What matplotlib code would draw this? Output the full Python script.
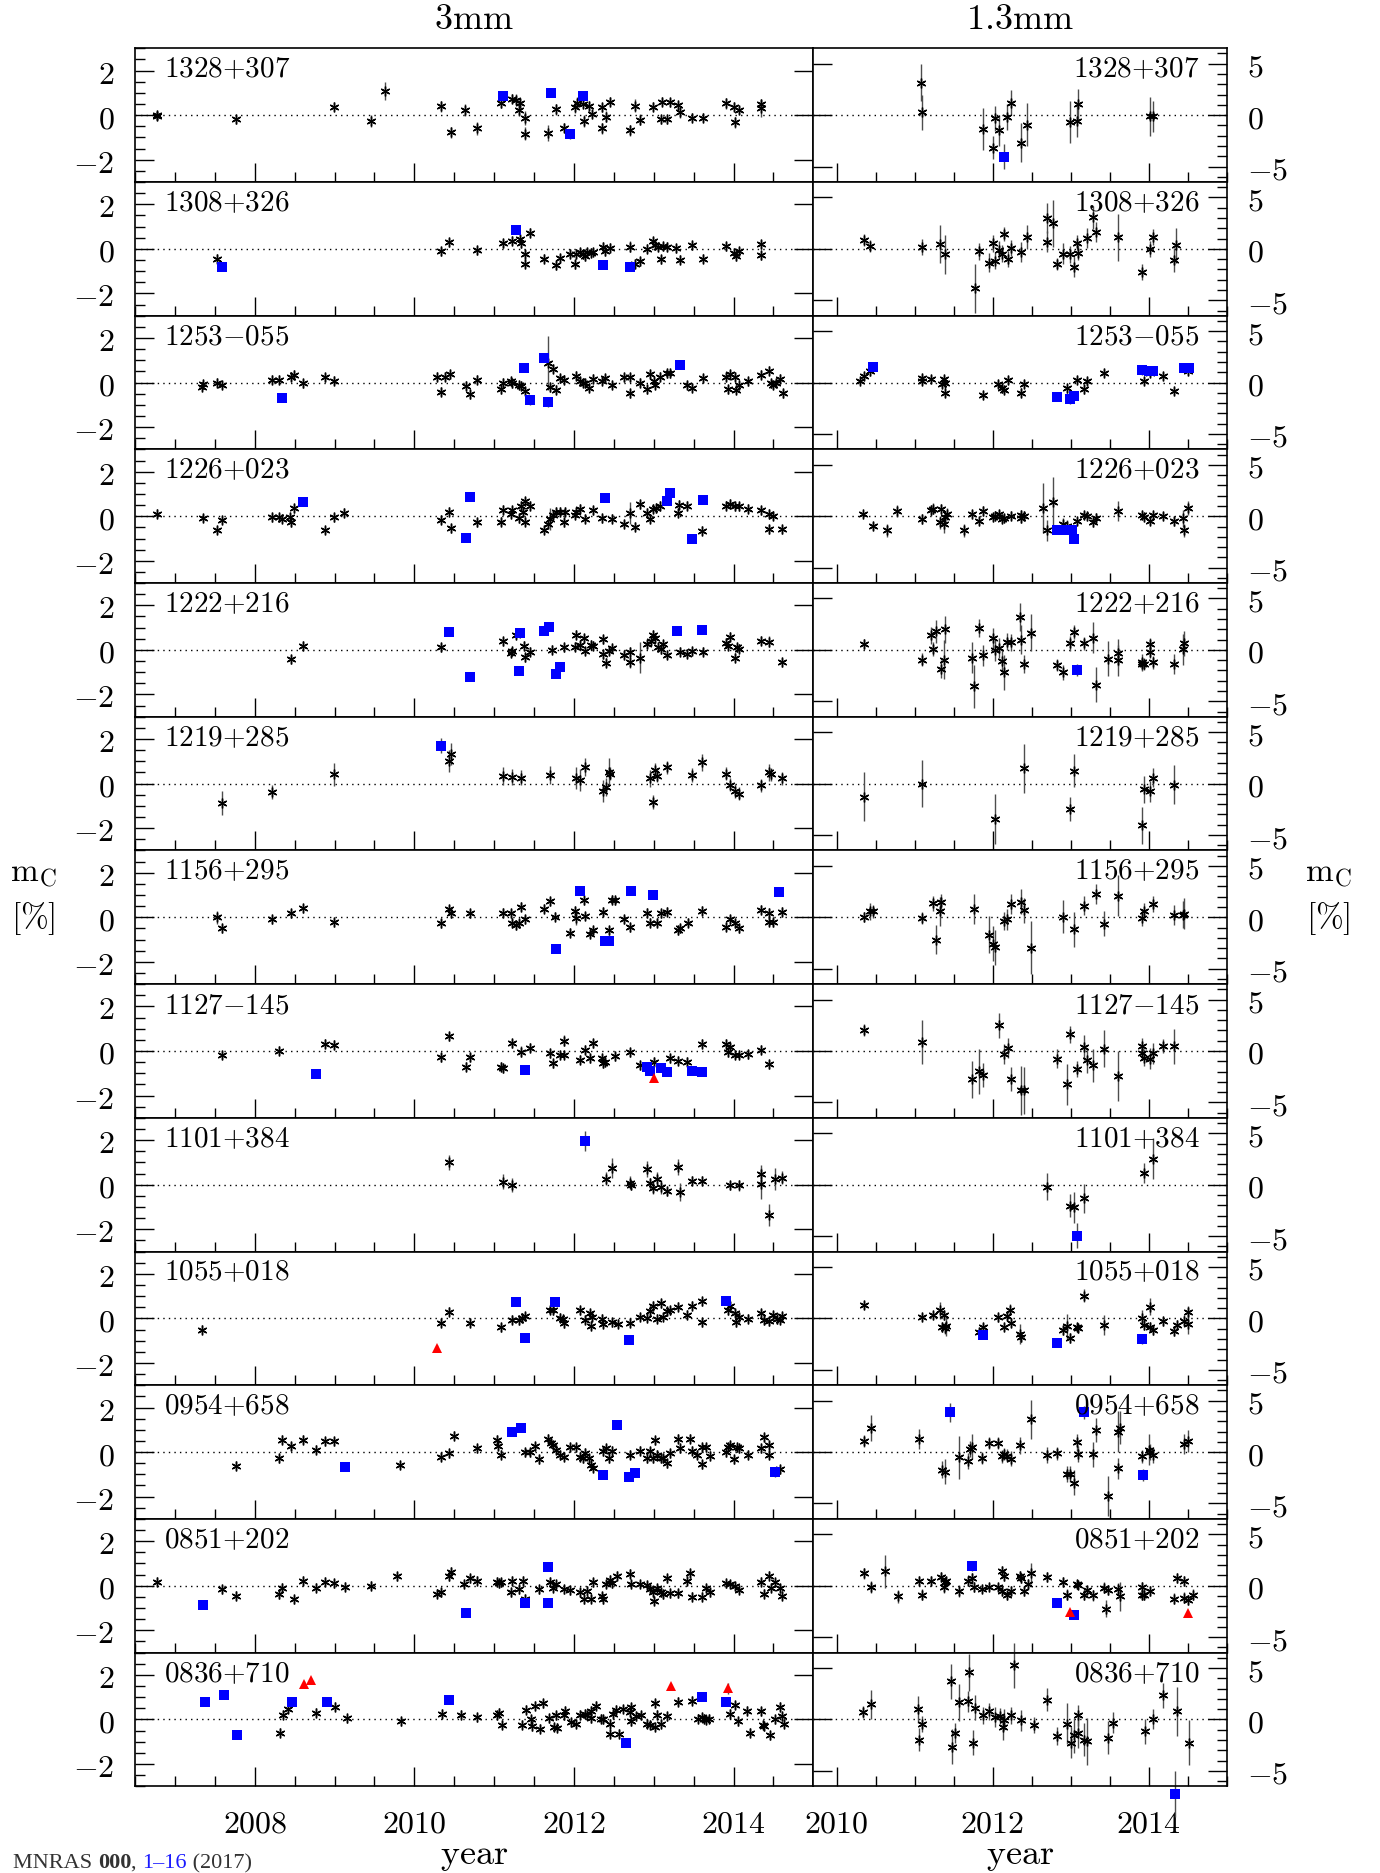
import numpy as np
import matplotlib
matplotlib.use("Agg")
import matplotlib.pyplot as plt
from matplotlib.ticker import MultipleLocator, FuncFormatter

plt.rcParams['mathtext.fontset'] = 'cm'
plt.rcParams['font.family'] = ['DejaVu Serif']

# (year, m_c [%], error) -- 3mm = left column, 1.3mm = right column
# d = asterisks, q = blue squares, t = red triangles

d1328_3 = [(2006.77, 0.00, 0.15), (2006.78, -0.05, 0.15), (2007.77, -0.18, 0.2), (2008.99, 0.38, 0.2),
           (2009.46, -0.26, 0.25), (2009.63, 1.10, 0.4), (2010.34, 0.39, 0.25), (2010.46, -0.76, 0.25),
           (2010.63, 0.23, 0.25), (2010.78, -0.59, 0.3), (2011.08, 0.55, 0.25), (2011.23, 0.73, 0.2),
           (2011.27, 0.70, 0.25), (2011.33, 0.55, 0.2), (2011.31, 0.23, 0.25), (2011.39, -0.12, 0.3),
           (2011.39, -0.83, 0.3), (2011.67, -0.79, 0.35), (2011.78, 0.27, 0.25), (2011.88, -0.56, 0.2),
           (2012.01, 0.35, 0.25), (2012.04, 0.55, 0.25), (2012.11, 0.50, 0.2), (2012.13, -0.26, 0.25),
           (2012.19, 0.42, 0.2), (2012.23, 0.05, 0.2), (2012.35, 0.35, 0.2), (2012.35, -0.59, 0.25),
           (2012.40, -0.08, 0.25), (2012.45, 0.60, 0.2), (2012.70, -0.67, 0.25), (2012.77, 0.42, 0.3),
           (2012.83, -0.21, 0.25), (2012.99, 0.38, 0.2), (2013.09, -0.18, 0.2), (2013.10, 0.60, 0.2),
           (2013.17, -0.18, 0.2), (2013.21, 0.58, 0.2), (2013.30, 0.45, 0.2), (2013.33, 0.12, 0.25),
           (2013.48, -0.11, 0.2), (2013.62, -0.11, 0.2), (2013.91, 0.53, 0.25), (2014.01, 0.38, 0.2),
           (2014.02, -0.33, 0.25), (2014.07, 0.23, 0.2), (2014.34, 0.50, 0.2), (2014.35, 0.33, 0.4)]
q1328_3 = [(2011.11, 0.88, 0.15), (2011.71, 1.00, 0.2), (2011.95, -0.86, 0.2), (2012.11, 0.88, 0.15)]
d1328_1 = [(2011.08, 3.13, 1.8), (2011.10, 0.27, 1.7), (2011.88, -1.35, 2.0), (2012.01, -3.16, 1.1),
           (2012.03, -0.30, 1.2), (2012.08, -1.48, 1.5), (2012.19, -0.17, 1.3), (2012.23, 1.21, 1.2),
           (2012.36, -2.66, 1.9), (2012.44, -0.91, 2.1), (2012.99, -0.67, 2.0), (2013.08, -0.57, 1.6),
           (2013.10, 1.04, 1.5), (2014.02, -0.13, 1.9), (2014.06, -0.13, 1.5)]
q1328_1 = [(2012.15, -4.04, 1.2)]

d1308_3 = [(2007.53, -0.44, 0.2), (2010.34, -0.11, 0.2), (2010.43, 0.30, 0.2), (2010.78, -0.06, 0.2),
           (2011.11, 0.24, 0.2), (2011.23, 0.36, 0.2), (2011.33, 0.42, 0.2), (2011.34, 0.24, 0.2),
           (2011.39, -0.24, 0.2), (2011.39, -0.67, 0.2), (2011.45, 0.73, 0.2), (2011.62, -0.44, 0.2),
           (2011.78, -0.74, 0.2), (2011.82, -0.42, 0.2), (2011.95, -0.21, 0.2), (2012.01, -0.70, 0.2),
           (2012.02, -0.24, 0.2), (2012.08, -0.14, 0.2), (2012.11, -0.24, 0.2), (2012.14, -0.33, 0.2),
           (2012.16, -0.14, 0.2), (2012.21, -0.18, 0.2), (2012.24, -0.14, 0.2), (2012.36, 0.09, 0.2),
           (2012.39, -0.11, 0.2), (2012.45, 0.05, 0.2), (2012.70, 0.09, 0.25), (2012.77, -0.67, 0.2),
           (2012.83, -0.55, 0.2), (2012.91, 0.00, 0.2), (2012.99, 0.35, 0.2), (2013.02, 0.17, 0.2),
           (2013.05, 0.09, 0.2), (2013.09, -0.47, 0.2), (2013.11, 0.12, 0.2), (2013.17, 0.09, 0.2),
           (2013.28, 0.02, 0.2), (2013.33, -0.48, 0.2), (2013.48, 0.17, 0.2), (2013.62, -0.45, 0.2),
           (2013.91, 0.12, 0.2), (2014.01, -0.18, 0.2), (2014.03, -0.33, 0.2), (2014.07, -0.11, 0.2),
           (2014.34, 0.20, 0.2), (2014.35, -0.29, 0.2)]
q1308_3 = [(2007.59, -0.82, 0.15), (2011.28, 0.85, 0.2), (2012.36, -0.74, 0.15), (2012.70, -0.82, 0.15)]
d1308_1 = [(2010.35, 0.88, 0.6), (2010.43, 0.30, 0.6), (2011.10, 0.20, 0.8), (2011.32, 0.47, 1.8),
           (2011.39, -0.54, 1.9), (2011.78, -3.84, 2.4), (2011.82, -0.24, 0.8), (2011.96, -1.35, 0.9),
           (2012.01, 0.54, 0.8), (2012.03, -1.14, 0.8), (2012.08, -0.13, 0.9), (2012.12, -0.47, 0.8),
           (2012.14, 1.45, 0.7), (2012.20, -0.98, 0.8), (2012.24, 0.10, 0.8), (2012.36, -0.30, 1.0),
           (2012.44, 1.14, 1.2), (2012.70, 3.00, 1.5), (2012.70, 0.71, 1.0), (2012.77, 2.49, 2.3),
           (2012.83, -1.48, 0.6), (2012.90, -0.47, 1.0), (2012.99, -0.54, 0.8), (2013.04, -1.75, 1.0),
           (2013.08, 0.61, 0.7), (2013.10, -0.37, 0.7), (2013.21, 1.04, 1.0), (2013.29, 3.06, 1.1),
           (2013.33, 1.65, 1.0), (2013.61, 1.11, 2.3), (2013.91, -2.26, 0.8), (2014.02, -0.03, 0.8),
           (2014.06, 1.14, 0.8), (2014.33, -1.08, 1.2), (2014.35, 0.37, 1.7)]

d1253_3 = [(2007.34, -0.18, 0.2), (2007.35, -0.08, 0.2), (2007.53, 0.00, 0.2), (2007.59, -0.11, 0.2),
           (2008.22, 0.12, 0.2), (2008.30, 0.12, 0.2), (2008.46, 0.27, 0.2), (2008.49, 0.35, 0.2),
           (2008.61, -0.03, 0.2), (2008.88, 0.23, 0.2), (2008.99, 0.08, 0.2), (2010.29, 0.27, 0.2),
           (2010.34, -0.41, 0.2), (2010.38, 0.27, 0.2), (2010.45, 0.38, 0.2), (2010.65, -0.14, 0.2),
           (2010.70, -0.53, 0.2), (2010.78, 0.12, 0.2), (2011.09, -0.30, 0.2), (2011.11, 0.00, 0.2),
           (2011.21, 0.05, 0.2), (2011.23, -0.03, 0.2), (2011.31, -0.11, 0.2), (2011.34, -0.15, 0.2),
           (2011.39, -0.38, 0.2), (2011.67, 0.88, 1.2), (2011.70, -0.21, 0.2), (2011.74, 0.62, 0.2),
           (2011.77, -0.33, 0.2), (2011.82, 0.20, 0.2), (2011.88, 0.12, 0.2), (2012.02, 0.30, 0.2),
           (2012.08, 0.05, 0.2), (2012.11, 0.00, 0.2), (2012.14, -0.03, 0.2), (2012.19, -0.23, 0.2),
           (2012.24, 0.17, 0.2), (2012.35, 0.09, 0.2), (2012.39, 0.20, 0.2), (2012.48, -0.11, 0.2),
           (2012.63, 0.23, 0.2), (2012.70, 0.23, 0.2), (2012.70, -0.48, 0.2), (2012.83, 0.00, 0.2),
           (2012.91, -0.30, 0.2), (2012.95, 0.38, 0.2), (2013.00, 0.05, 0.2), (2013.02, -0.11, 0.2),
           (2013.08, 0.27, 0.2), (2013.17, 0.42, 0.2), (2013.21, 0.42, 0.2), (2013.42, -0.11, 0.2),
           (2013.48, -0.23, 0.2), (2013.62, 0.20, 0.2), (2013.91, 0.27, 0.2), (2013.93, -0.30, 0.2),
           (2013.95, 0.38, 0.2), (2014.02, 0.27, 0.2), (2014.03, -0.33, 0.2), (2014.07, -0.11, 0.2),
           (2014.18, 0.05, 0.2), (2014.34, 0.35, 0.2), (2014.45, 0.53, 0.2), (2014.47, -0.03, 0.2),
           (2014.50, -0.11, 0.2), (2014.53, 0.00, 0.2), (2014.58, 0.17, 0.2), (2014.62, -0.48, 0.2)]
q1253_3 = [(2008.34, -0.71, 0.15), (2011.38, 0.65, 0.15), (2011.45, -0.80, 0.2), (2011.62, 1.11, 0.2),
           (2011.67, -0.89, 0.2), (2013.33, 0.77, 0.15)]
d1253_1 = [(2010.30, 0.17, 0.3), (2010.35, 0.61, 0.4), (2010.43, 1.11, 0.5), (2011.09, 0.17, 0.4),
           (2011.10, 0.44, 0.4), (2011.21, 0.37, 0.4), (2011.35, -0.17, 0.4), (2011.38, 0.37, 0.4),
           (2011.39, -0.07, 0.4), (2011.39, -0.98, 0.4), (2011.88, -1.18, 0.4), (2012.07, -0.17, 0.4),
           (2012.12, -0.57, 0.4), (2012.14, -0.74, 0.4), (2012.20, 0.27, 0.4), (2012.36, -0.98, 0.4),
           (2012.40, -0.17, 0.4), (2012.95, -0.57, 0.4), (2013.08, 0.27, 0.4), (2013.17, -0.67, 0.4),
           (2013.21, 0.17, 0.4), (2013.43, 0.94, 0.4), (2013.94, 0.17, 0.4), (2014.02, 0.94, 0.4),
           (2014.18, 0.61, 0.4), (2014.33, -0.81, 0.4), (2014.50, 1.11, 0.4)]
q1253_1 = [(2010.47, 1.55, 0.4), (2012.83, -1.41, 0.4), (2012.99, -1.65, 0.4), (2013.04, -1.31, 0.4),
           (2013.91, 1.18, 0.4), (2014.00, 1.11, 0.4), (2014.06, 1.11, 0.4), (2014.45, 1.45, 0.4),
           (2014.52, 1.45, 0.4)]

d1226_3 = [(2006.78, 0.11, 0.2), (2007.35, -0.08, 0.2), (2007.53, -0.62, 0.2), (2007.59, -0.17, 0.2),
           (2008.22, -0.05, 0.2), (2008.30, -0.05, 0.2), (2008.34, -0.12, 0.2), (2008.44, -0.05, 0.2),
           (2008.46, -0.27, 0.2), (2008.49, 0.36, 0.2), (2008.88, -0.62, 0.2), (2008.99, -0.05, 0.2),
           (2009.12, 0.15, 0.2), (2010.34, -0.15, 0.2), (2010.43, 0.21, 0.2), (2010.46, -0.55, 0.2),
           (2010.78, -0.27, 0.2), (2011.09, -0.24, 0.2), (2011.11, 0.30, 0.2), (2011.21, 0.11, 0.2),
           (2011.23, 0.26, 0.2), (2011.31, -0.09, 0.2), (2011.34, 0.48, 0.2), (2011.36, 0.21, 0.2),
           (2011.39, 0.67, 0.2), (2011.39, -0.24, 0.2), (2011.45, 0.48, 0.2), (2011.62, -0.62, 0.2),
           (2011.68, -0.35, 0.2), (2011.70, -0.12, 0.5), (2011.74, 0.06, 0.2), (2011.77, 0.21, 0.2),
           (2011.83, 0.21, 0.2), (2011.88, -0.27, 0.2), (2011.89, 0.21, 0.2), (2012.01, 0.06, 0.2),
           (2012.03, 0.21, 0.2), (2012.08, 0.33, 0.2), (2012.14, -0.12, 0.2), (2012.24, 0.26, 0.2),
           (2012.35, -0.09, 0.2), (2012.48, -0.12, 0.2), (2012.63, -0.35, 0.2), (2012.70, 0.15, 0.5),
           (2012.77, -0.47, 0.2), (2012.83, 0.53, 0.2), (2012.91, 0.15, 0.2), (2012.95, -0.12, 0.2),
           (2012.99, 0.33, 0.2), (2013.03, 0.36, 0.2), (2013.08, 0.48, 0.2), (2013.30, 0.15, 0.2),
           (2013.32, 0.52, 0.2), (2013.42, 0.48, 0.2), (2013.61, -0.65, 0.2), (2013.91, 0.48, 0.2),
           (2013.95, 0.56, 0.2), (2014.02, 0.44, 0.2), (2014.07, 0.44, 0.2), (2014.18, 0.33, 0.2),
           (2014.34, 0.26, 0.2), (2014.45, 0.11, 0.2), (2014.50, 0.03, 0.2), (2014.45, -0.58, 0.2),
           (2014.61, -0.58, 0.2)]
q1226_3 = [(2008.61, 0.64, 0.15), (2010.65, -0.98, 0.15), (2010.70, 0.86, 0.15), (2012.39, 0.82, 0.15),
           (2013.17, 0.67, 0.15), (2013.21, 1.05, 0.15), (2013.48, -1.03, 0.15), (2013.62, 0.74, 0.15)]
d1226_1 = [(2010.34, 0.24, 0.3), (2010.46, -0.94, 0.4), (2010.65, -1.38, 0.6), (2010.78, 0.51, 0.6),
           (2011.10, -0.27, 0.5), (2011.21, 0.57, 0.5), (2011.23, 0.74, 0.5), (2011.34, 0.67, 0.5),
           (2011.32, -0.61, 0.6), (2011.38, -0.77, 0.9), (2011.39, -0.10, 0.6), (2011.41, 0.24, 0.6),
           (2011.63, -1.38, 0.6), (2011.73, 0.24, 0.4), (2011.82, -0.44, 0.4), (2011.88, 0.51, 0.5),
           (2012.01, -0.10, 0.4), (2012.03, 0.07, 0.4), (2012.08, 0.24, 0.4), (2012.12, -0.27, 0.4),
           (2012.15, -0.20, 0.4), (2012.24, 0.07, 0.4), (2012.36, 0.13, 0.5), (2012.37, -0.20, 0.5),
           (2012.40, 0.07, 0.4), (2012.64, 0.81, 2.4), (2012.70, -1.38, 1.0), (2012.77, 1.35, 2.5),
           (2012.90, -0.77, 0.6), (2012.95, -0.94, 0.6), (2013.08, -0.44, 0.4), (2013.17, 0.13, 0.4),
           (2013.21, 0.00, 0.4), (2013.29, -0.61, 0.4), (2013.33, -0.20, 0.5), (2013.61, 0.51, 1.0),
           (2013.91, 0.13, 0.4), (2013.94, -0.10, 0.4), (2014.02, -0.44, 0.4), (2014.06, 0.13, 0.4),
           (2014.18, 0.00, 0.4), (2014.33, -0.44, 0.5), (2014.44, -0.20, 0.8), (2014.45, -1.38, 0.6),
           (2014.50, 0.81, 0.7)]
q1226_1 = [(2012.83, -1.38, 0.3), (2012.95, -1.38, 0.3), (2013.02, -1.38, 0.3), (2013.04, -2.19, 0.3)]

d1222_3 = [(2008.46, -0.42, 0.2), (2008.61, 0.18, 0.2), (2010.34, 0.11, 0.2), (2011.11, 0.38, 0.2),
           (2011.21, -0.12, 0.2), (2011.23, -0.05, 0.2), (2011.28, 0.67, 0.2), (2011.37, 0.18, 0.2),
           (2011.39, -0.32, 0.2), (2011.45, -0.08, 0.2), (2011.73, 0.00, 0.2), (2011.88, 0.11, 0.2),
           (2012.01, 0.15, 0.2), (2012.03, 0.68, 0.2), (2012.08, 0.21, 0.2), (2012.12, 0.52, 0.2),
           (2012.14, -0.05, 0.2), (2012.21, 0.23, 0.2), (2012.24, 0.18, 0.2), (2012.36, 0.48, 0.2),
           (2012.36, -0.20, 0.2), (2012.40, -0.58, 0.2), (2012.44, -0.05, 0.2), (2012.48, 0.08, 0.2),
           (2012.63, -0.23, 0.2), (2012.70, -0.08, 0.2), (2012.70, -0.53, 0.3), (2012.83, -0.35, 0.7),
           (2012.91, 0.26, 0.2), (2012.96, 0.41, 0.2), (2012.99, 0.68, 0.2), (2013.02, 0.52, 0.2),
           (2013.05, 0.14, 0.2), (2013.09, 0.03, 0.2), (2013.11, 0.26, 0.2), (2013.17, -0.23, 0.2),
           (2013.33, -0.08, 0.2), (2013.42, -0.17, 0.2), (2013.48, -0.05, 0.2), (2013.62, -0.08, 0.2),
           (2013.91, 0.33, 0.2), (2013.93, 0.18, 0.2), (2013.95, 0.59, 0.2), (2014.02, -0.35, 0.2),
           (2014.04, 0.11, 0.2), (2014.07, 0.06, 0.2), (2014.34, 0.41, 0.2), (2014.45, 0.36, 0.25),
           (2014.61, -0.55, 0.2)]
q1222_3 = [(2010.43, 0.82, 0.15), (2010.70, -1.21, 0.15), (2011.31, -0.95, 0.15), (2011.33, 0.74, 0.15),
           (2011.63, 0.86, 0.15), (2011.69, 1.05, 0.15), (2011.77, -1.08, 0.15), (2011.83, -0.76, 0.15),
           (2013.29, 0.83, 0.15), (2013.60, 0.91, 0.15)]
d1222_1 = [(2010.35, 0.57, 0.5), (2011.10, -0.94, 0.6), (2011.21, 1.41, 0.8), (2011.23, 0.07, 0.7),
           (2011.28, 1.82, 1.1), (2011.34, -1.85, 0.9), (2011.38, -0.94, 1.9), (2011.39, 1.99, 1.3),
           (2011.73, -0.77, 1.5), (2011.76, -3.54, 2.1), (2011.82, 2.15, 0.9), (2011.88, -0.54, 1.0),
           (2012.01, 1.14, 1.0), (2012.03, -0.03, 1.0), (2012.08, 0.17, 1.0), (2012.12, -1.04, 1.1),
           (2012.14, -2.19, 1.7), (2012.19, 0.81, 0.8), (2012.24, 0.74, 0.8), (2012.35, 3.20, 1.4),
           (2012.36, 0.98, 1.4), (2012.40, -1.35, 0.9), (2012.49, 1.65, 1.8), (2012.83, -1.45, 0.6),
           (2012.90, -2.19, 0.7), (2012.99, 0.64, 0.7), (2013.04, 1.75, 0.7), (2013.17, 0.64, 0.6),
           (2013.29, 1.18, 1.5), (2013.33, -3.40, 1.7), (2013.48, -0.84, 1.7), (2013.61, -0.27, 1.3),
           (2013.61, -1.01, 1.5), (2013.91, -1.21, 0.8), (2013.92, -1.38, 0.6), (2013.94, -1.35, 0.6),
           (2014.02, 0.57, 0.6), (2014.02, -0.20, 0.6), (2014.06, -1.21, 0.6), (2014.33, -1.38, 1.0),
           (2014.44, 0.07, 1.5), (2014.45, 0.64, 1.2)]
q1222_1 = [(2013.08, -1.95, 0.6)]

d1219_3 = [(2007.59, -0.88, 0.55), (2008.22, -0.38, 0.3), (2008.99, 0.41, 0.5), (2010.43, 1.03, 0.5),
           (2010.46, 1.32, 0.5), (2011.11, 0.35, 0.4), (2011.23, 0.30, 0.35), (2011.34, 0.27, 0.35),
           (2011.70, 0.38, 0.4), (2012.03, 0.26, 0.5), (2012.08, 0.15, 0.5), (2012.14, 0.73, 0.4),
           (2012.36, -0.33, 0.5), (2012.40, -0.15, 0.4), (2012.44, 0.53, 0.6), (2012.45, 0.45, 0.3),
           (2012.95, 0.23, 0.4), (2012.99, -0.83, 0.3), (2013.01, 0.61, 0.3), (2013.04, 0.35, 0.3),
           (2013.17, 0.73, 0.3), (2013.48, 0.38, 0.3), (2013.61, 0.95, 0.4), (2013.91, 0.45, 0.3),
           (2013.95, -0.05, 0.3), (2014.02, -0.33, 0.3), (2014.07, -0.45, 0.3), (2014.34, -0.08, 0.3),
           (2014.45, 0.50, 0.4), (2014.47, 0.42, 0.3), (2014.61, 0.23, 0.3)]
q1219_3 = [(2010.33, 1.71, 0.35)]
d1219_1 = [(2010.35, -1.28, 2.4), (2011.10, 0.00, 2.3), (2012.03, -3.43, 2.4), (2012.40, 1.48, 2.4),
           (2012.99, -2.46, 1.2), (2013.04, 1.25, 1.6), (2013.91, -4.04, 1.8), (2013.94, -0.57, 1.3),
           (2014.02, -0.74, 1.0), (2014.06, 0.57, 0.9), (2014.33, -0.10, 1.9)]

d1156_3 = [(2007.53, 0.00, 0.3), (2007.59, -0.50, 0.2), (2008.22, -0.09, 0.2), (2008.46, 0.18, 0.2),
           (2008.61, 0.41, 0.2), (2008.99, -0.23, 0.2), (2010.34, -0.27, 0.2), (2010.43, 0.36, 0.2),
           (2010.46, 0.18, 0.2), (2010.70, 0.18, 0.2), (2011.11, 0.21, 0.2), (2011.21, 0.18, 0.2),
           (2011.23, -0.24, 0.2), (2011.27, -0.35, 0.2), (2011.31, -0.27, 0.2), (2011.34, 0.48, 0.2),
           (2011.39, -0.09, 0.2), (2011.62, 0.38, 0.2), (2011.70, 0.71, 0.2), (2011.76, 0.03, 0.2),
           (2011.95, -0.70, 0.2), (2012.01, 0.30, 0.2), (2012.03, -0.05, 0.3), (2012.12, 0.76, 0.2),
           (2012.14, 0.06, 0.2), (2012.20, -0.73, 0.2), (2012.24, -0.58, 0.2), (2012.36, 0.26, 0.2),
           (2012.44, -0.58, 0.2), (2012.48, 0.79, 0.2), (2012.51, 0.76, 0.2), (2012.63, -0.09, 0.2),
           (2012.70, -0.45, 0.2), (2012.91, 0.21, 0.2), (2012.95, -0.24, 0.2), (2013.04, -0.24, 0.2),
           (2013.09, 0.18, 0.2), (2013.17, 0.26, 0.2), (2013.30, -0.58, 0.2), (2013.33, -0.50, 0.2),
           (2013.43, -0.24, 0.2), (2013.61, 0.30, 0.2), (2013.91, -0.42, 0.2), (2013.95, -0.09, 0.2),
           (2014.02, -0.27, 0.2), (2014.07, -0.50, 0.2), (2014.34, 0.33, 0.2), (2014.45, 0.21, 0.2),
           (2014.45, -0.20, 0.2), (2014.50, -0.23, 0.2), (2014.61, 0.26, 0.2)]
q1156_3 = [(2011.78, -1.44, 0.15), (2012.08, 1.20, 0.15), (2012.39, -1.08, 0.15), (2012.44, -1.08, 0.15),
           (2012.71, 1.17, 0.15), (2012.99, 0.98, 0.15), (2014.57, 1.12, 0.15)]
d1156_1 = [(2010.35, 0.00, 0.5), (2010.43, 0.57, 0.8), (2010.47, 0.57, 0.6), (2011.10, -0.10, 0.6),
           (2011.23, 1.35, 0.7), (2011.28, -2.19, 1.4), (2011.32, 0.57, 1.4), (2011.34, 1.52, 0.7),
           (2011.76, 0.81, 1.5), (2011.96, -1.68, 1.8), (2012.01, -2.56, 1.7), (2012.03, -2.90, 1.7),
           (2012.14, -0.34, 0.9), (2012.19, -0.20, 1.0), (2012.24, 1.31, 1.0), (2012.36, 1.52, 1.2),
           (2012.40, 0.67, 1.2), (2012.49, -2.96, 2.6), (2012.90, 0.07, 1.6), (2013.04, -1.18, 1.7),
           (2013.17, 1.14, 0.9), (2013.33, 2.26, 1.0), (2013.43, -0.61, 1.2), (2013.61, 2.09, 2.0),
           (2013.91, -0.03, 0.8), (2013.94, 0.57, 0.8), (2014.06, 1.31, 0.8), (2014.33, 0.24, 1.0),
           (2014.44, 0.24, 1.3), (2014.45, 0.34, 1.5)]

d1127_3 = [(2007.59, -0.18, 0.2), (2008.30, 0.02, 0.2), (2008.88, 0.32, 0.2), (2008.99, 0.29, 0.2),
           (2010.34, -0.29, 0.2), (2010.43, 0.67, 0.2), (2010.65, -0.70, 0.2), (2010.70, -0.29, 0.2),
           (2011.09, -0.71, 0.2), (2011.11, -0.77, 0.2), (2011.23, 0.35, 0.2), (2011.34, -0.03, 0.25),
           (2011.45, 0.14, 0.2), (2011.70, -0.11, 0.2), (2011.74, -0.56, 0.2), (2011.82, -0.18, 0.2),
           (2011.88, -0.18, 0.2), (2011.88, 0.47, 0.25), (2012.08, -0.39, 0.2), (2012.14, 0.06, 0.2),
           (2012.20, -0.32, 0.2), (2012.24, 0.35, 0.2), (2012.35, -0.32, 0.2), (2012.36, -0.55, 0.2),
           (2012.39, -0.48, 0.2), (2012.52, -0.24, 0.2), (2012.70, -0.06, 0.2), (2012.83, -0.64, 0.2),
           (2013.00, -0.48, 0.2), (2013.21, -0.32, 0.2), (2013.30, -0.44, 0.2), (2013.42, -0.48, 0.2),
           (2013.61, 0.32, 0.2), (2013.91, 0.32, 0.2), (2013.93, -0.06, 0.2), (2013.95, 0.17, 0.2),
           (2014.02, -0.17, 0.2), (2014.07, -0.18, 0.2), (2014.18, -0.14, 0.2), (2014.34, 0.06, 0.2),
           (2014.45, -0.59, 0.2)]
q1127_3 = [(2008.77, -1.05, 0.15), (2011.39, -0.86, 0.15), (2012.91, -0.74, 0.15), (2012.95, -0.89, 0.15),
           (2013.09, -0.77, 0.15), (2013.17, -0.94, 0.15), (2013.48, -0.89, 0.15), (2013.60, -0.94, 0.15)]
t1127_3 = [(2013.00, -1.20, 0.1)]
d1127_1 = [(2010.35, 2.05, 0.6), (2011.10, 0.88, 2.1), (2011.73, -2.73, 1.8), (2011.82, -1.99, 2.2),
           (2011.88, -2.32, 1.2), (2012.08, 2.49, 1.2), (2012.14, -0.30, 1.0), (2012.20, 0.30, 1.0),
           (2012.24, -2.73, 1.2), (2012.36, -3.84, 2.4), (2012.40, -3.84, 2.3), (2012.83, -0.74, 0.9),
           (2012.95, -3.23, 2.0), (2012.99, 1.62, 0.8), (2013.08, -1.75, 0.8), (2013.17, 0.37, 1.2),
           (2013.21, -0.91, 1.2), (2013.29, -1.38, 1.6), (2013.43, 0.20, 1.8), (2013.61, -2.42, 2.4),
           (2013.91, 0.47, 0.8), (2013.92, -0.24, 0.6), (2013.94, -0.64, 0.8), (2014.02, -0.74, 1.0),
           (2014.06, -0.24, 1.0), (2014.18, 0.47, 0.7), (2014.33, 0.47, 1.7)]

d1101_3 = [(2010.43, 1.00, 0.35), (2011.11, 0.14, 0.35), (2011.23, -0.02, 0.3), (2012.40, 0.27, 0.3),
           (2012.48, 0.77, 0.45), (2012.70, 0.09, 0.3), (2012.71, -0.02, 0.2), (2012.91, 0.70, 0.35),
           (2012.95, 0.09, 0.2), (2012.99, -0.14, 0.3), (2013.04, 0.27, 0.3), (2013.09, -0.11, 0.3),
           (2013.17, -0.29, 0.2), (2013.30, 0.80, 0.35), (2013.33, -0.33, 0.4), (2013.48, 0.17, 0.2),
           (2013.61, 0.17, 0.2), (2013.95, -0.03, 0.2), (2014.07, -0.03, 0.25), (2014.34, 0.47, 0.4),
           (2014.34, 0.05, 0.7), (2014.45, -1.36, 0.5), (2014.52, 0.27, 0.5), (2014.61, 0.32, 0.3)]
q1101_3 = [(2012.14, 1.95, 0.45)]
d1101_1 = [(2012.70, -0.21, 1.3), (2012.99, -2.05, 1.1), (2013.04, -2.18, 1.5), (2013.17, -1.32, 1.4),
           (2013.94, 1.15, 1.0), (2014.06, 2.52, 2.0)]
q1101_1 = [(2013.08, -4.96, 1.2)]

d1055_3 = [(2007.34, -0.50, 0.2), (2010.34, -0.20, 0.2), (2010.43, 0.29, 0.2), (2010.70, -0.20, 0.2),
           (2011.09, -0.39, 0.2), (2011.23, -0.06, 0.2), (2011.31, -0.09, 0.2), (2011.35, 0.02, 0.2),
           (2011.39, 0.09, 0.2), (2011.70, 0.39, 0.2), (2011.74, 0.36, 0.2), (2011.82, 0.02, 0.2),
           (2011.86, -0.05, 0.2), (2011.88, -0.21, 0.2), (2012.08, 0.36, 0.2), (2012.14, -0.06, 0.2),
           (2012.20, 0.24, 0.2), (2012.23, 0.06, 0.2), (2012.22, -0.32, 0.2), (2012.35, -0.02, 0.2),
           (2012.36, -0.24, 0.2), (2012.48, -0.17, 0.2), (2012.55, -0.24, 0.2), (2012.70, -0.20, 0.2),
           (2012.83, 0.06, 0.2), (2012.91, 0.03, 0.2), (2012.95, 0.32, 0.2), (2012.99, 0.56, 0.2),
           (2013.04, -0.02, 0.2), (2013.09, 0.67, 0.2), (2013.11, 0.06, 0.2), (2013.17, 0.32, 0.2),
           (2013.21, 0.36, 0.2), (2013.30, 0.52, 0.2), (2013.42, 0.17, 0.2), (2013.48, 0.56, 0.2),
           (2013.61, 0.77, 0.2), (2013.61, -0.17, 0.2), (2013.93, 0.36, 0.2), (2013.95, 0.56, 0.2),
           (2014.02, 0.24, 0.2), (2014.03, -0.17, 0.2), (2014.07, 0.06, 0.2), (2014.18, -0.02, 0.2),
           (2014.34, 0.24, 0.2), (2014.38, -0.09, 0.2), (2014.45, -0.14, 0.2), (2014.50, 0.14, 0.2),
           (2014.54, -0.05, 0.2), (2014.58, -0.06, 0.2), (2014.61, 0.09, 0.2)]
q1055_3 = [(2011.28, 0.74, 0.15), (2011.39, -0.89, 0.15), (2011.76, 0.74, 0.15), (2012.69, -0.97, 0.2),
           (2013.91, 0.79, 0.15)]
t1055_3 = [(2010.29, -1.35, 0.15)]
d1055_1 = [(2010.35, 1.28, 0.4), (2011.09, 0.13, 0.4), (2011.23, 0.30, 0.4), (2011.32, 0.77, 0.8),
           (2011.35, -0.85, 0.5), (2011.38, 0.30, 0.5), (2011.39, -0.94, 0.6), (2011.40, -0.73, 1.0),
           (2011.82, -1.37, 0.4), (2011.88, -0.85, 0.4), (2012.07, 0.09, 0.4), (2012.14, -0.85, 0.4),
           (2012.19, 0.21, 0.4), (2012.22, 0.85, 0.5), (2012.24, -0.43, 0.4), (2012.35, -1.50, 1.0),
           (2012.36, -1.79, 0.5), (2012.90, -1.15, 0.5), (2012.95, -0.77, 1.2), (2012.99, -1.92, 0.5),
           (2013.08, -0.85, 0.4), (2013.10, -0.98, 0.4), (2013.17, 2.22, 0.6), (2013.43, -0.64, 1.0),
           (2013.92, 0.00, 0.8), (2013.94, -0.64, 0.5), (2014.02, 1.15, 0.8), (2014.02, -0.85, 0.5),
           (2014.06, -1.15, 0.5), (2014.18, -0.30, 0.4), (2014.33, -1.20, 0.5), (2014.36, -0.64, 0.5),
           (2014.45, -0.21, 0.5), (2014.50, -0.56, 1.0), (2014.51, 0.64, 0.6)]
q1055_1 = [(2011.88, -1.62, 0.4), (2012.83, -2.35, 0.4), (2013.91, -2.05, 0.4)]

d0954_3 = [(2007.77, -0.62, 0.2), (2008.30, -0.27, 0.2), (2008.34, 0.56, 0.2), (2008.46, 0.26, 0.2),
           (2008.61, 0.56, 0.2), (2008.77, 0.11, 0.2), (2008.88, 0.48, 0.2), (2008.99, 0.48, 0.2),
           (2009.82, -0.58, 0.2), (2010.34, -0.20, 0.2), (2010.43, -0.05, 0.2), (2010.50, 0.74, 0.2),
           (2010.78, 0.18, 0.2), (2011.03, 0.56, 0.2), (2011.05, 0.29, 0.2), (2011.09, -0.12, 0.2),
           (2011.39, 0.00, 0.2), (2011.45, 0.00, 0.2), (2011.51, 0.26, 0.2), (2011.56, -0.32, 0.2),
           (2011.68, 0.59, 0.2), (2011.71, 0.41, 0.2), (2011.74, 0.30, 0.2), (2011.78, 0.11, 0.2),
           (2011.83, -0.12, 0.2), (2011.88, -0.20, 0.2), (2011.95, 0.21, 0.2), (2012.03, 0.21, 0.2),
           (2012.08, -0.20, 0.2), (2012.11, -0.27, 0.2), (2012.14, -0.02, 0.2), (2012.19, -0.27, 0.2),
           (2012.22, -0.58, 0.2), (2012.24, -0.70, 0.2), (2012.36, 0.03, 0.2), (2012.40, 0.18, 0.2),
           (2012.44, -0.27, 0.2), (2012.48, 0.06, 0.2), (2012.70, -0.12, 0.2), (2012.83, 0.06, 0.2),
           (2012.91, -0.27, 0.2), (2012.95, 0.03, 0.2), (2012.99, -0.27, 0.2), (2013.01, 0.52, 0.2),
           (2013.04, -0.12, 0.2), (2013.09, -0.27, 0.2), (2013.11, -0.27, 0.2), (2013.17, -0.50, 0.2),
           (2013.21, -0.05, 0.2), (2013.30, 0.59, 0.2), (2013.33, 0.18, 0.2), (2013.45, 0.59, 0.2),
           (2013.48, 0.06, 0.2), (2013.54, -0.12, 0.2), (2013.61, 0.21, 0.2), (2013.61, -0.55, 0.2),
           (2013.66, 0.21, 0.2), (2013.70, -0.17, 0.2), (2013.91, 0.00, 0.2), (2013.93, 0.21, 0.2),
           (2013.95, 0.30, 0.2), (2014.00, -0.32, 0.2), (2014.04, 0.21, 0.2), (2014.07, 0.18, 0.2),
           (2014.18, -0.12, 0.2), (2014.34, 0.18, 0.2), (2014.38, 0.67, 0.2), (2014.45, 0.30, 0.2),
           (2014.45, -0.12, 0.2), (2014.58, -0.77, 0.2)]
q0954_3 = [(2009.13, -0.68, 0.15), (2011.23, 0.89, 0.15), (2011.34, 1.09, 0.15), (2012.36, -1.03, 0.15),
           (2012.54, 1.20, 0.15), (2012.69, -1.11, 0.15), (2012.77, -0.95, 0.15), (2014.52, -0.91, 0.2)]
d0954_1 = [(2010.35, 1.07, 0.6), (2010.44, 2.35, 1.3), (2011.05, 1.28, 1.0), (2011.35, -1.71, 0.8),
           (2011.39, -1.92, 1.2), (2011.57, -0.51, 2.1), (2011.68, -0.85, 0.8), (2011.71, 0.30, 0.8),
           (2011.73, 0.51, 1.2), (2011.87, -0.56, 0.6), (2011.96, 0.85, 0.6), (2012.07, 0.85, 0.6),
           (2012.12, -0.43, 0.6), (2012.14, -0.21, 0.6), (2012.19, -0.34, 0.6), (2012.24, -0.64, 0.7),
           (2012.35, 0.64, 0.8), (2012.49, 3.21, 1.9), (2012.70, -0.30, 0.8), (2012.83, -0.13, 0.6),
           (2012.95, -2.14, 0.8), (2012.99, -2.14, 0.8), (2013.04, -2.99, 1.2), (2013.08, 0.94, 0.8),
           (2013.10, -0.21, 0.8), (2013.29, -0.21, 1.2), (2013.33, 2.14, 1.2), (2013.48, -4.27, 1.9),
           (2013.61, 2.00, 2.0), (2013.64, 2.35, 1.6), (2013.61, -1.58, 1.0), (2013.91, -0.43, 0.6),
           (2014.00, 0.21, 1.5), (2014.02, 0.00, 0.8), (2014.06, -0.30, 0.8), (2014.45, 0.77, 1.0),
           (2014.51, 1.07, 1.1)]
q0954_1 = [(2011.45, 3.85, 0.9), (2013.17, 3.85, 0.6), (2013.93, -2.26, 0.6)]

d0851_3 = [(2006.78, 0.18, 0.2), (2007.59, -0.15, 0.2), (2007.77, -0.45, 0.2), (2008.30, -0.38, 0.2),
           (2008.34, -0.08, 0.2), (2008.49, -0.61, 0.2), (2008.61, 0.23, 0.2), (2008.77, -0.08, 0.2),
           (2008.88, 0.18, 0.2), (2008.99, 0.12, 0.2), (2009.13, -0.05, 0.2), (2009.46, 0.00, 0.2),
           (2009.78, 0.42, 0.2), (2010.29, -0.35, 0.2), (2010.34, -0.30, 0.2), (2010.43, 0.42, 0.2),
           (2010.46, 0.64, 0.2), (2010.62, 0.08, 0.2), (2010.70, 0.33, 0.2), (2010.78, 0.23, 0.2),
           (2011.03, 0.18, 0.2), (2011.06, 0.12, 0.2), (2011.09, 0.15, 0.2), (2011.21, -0.30, 0.2),
           (2011.23, 0.23, 0.2), (2011.31, -0.15, 0.2), (2011.36, 0.23, 0.2), (2011.39, -0.58, 0.2),
           (2011.56, -0.15, 0.2), (2011.70, 0.18, 0.2), (2011.74, -0.08, 0.2), (2011.78, 0.08, 0.2),
           (2011.88, -0.15, 0.2), (2011.95, -0.20, 0.2), (2012.08, -0.30, 0.2), (2012.12, -0.61, 0.2),
           (2012.16, -0.23, 0.2), (2012.21, -0.58, 0.2), (2012.24, 0.15, 0.2), (2012.35, -0.48, 0.2),
           (2012.36, -0.61, 0.2), (2012.40, 0.08, 0.2), (2012.45, 0.27, 0.2), (2012.48, 0.12, 0.2),
           (2012.54, 0.45, 0.2), (2012.70, 0.53, 0.2), (2012.71, 0.08, 0.2), (2012.83, 0.08, 0.2),
           (2012.91, 0.03, 0.2), (2012.95, -0.15, 0.2), (2012.99, -0.30, 0.2), (2013.00, -0.68, 0.2),
           (2013.04, -0.12, 0.2), (2013.09, -0.30, 0.2), (2013.11, -0.38, 0.2), (2013.17, 0.33, 0.2),
           (2013.21, -0.33, 0.2), (2013.30, -0.33, 0.2), (2013.42, 0.23, 0.2), (2013.45, 0.56, 0.2),
           (2013.48, -0.50, 0.2), (2013.61, -0.50, 0.2), (2013.66, -0.12, 0.2), (2013.70, -0.30, 0.2),
           (2013.91, 0.12, 0.2), (2013.95, 0.08, 0.2), (2014.02, -0.03, 0.2), (2014.07, -0.18, 0.2),
           (2014.34, 0.18, 0.2), (2014.38, -0.35, 0.2), (2014.45, 0.45, 0.2), (2014.47, -0.08, 0.2),
           (2014.52, 0.15, 0.2), (2014.58, -0.12, 0.2), (2014.61, -0.45, 0.2)]
q0851_3 = [(2007.35, -0.88, 0.15), (2010.65, -1.21, 0.15), (2011.39, -0.79, 0.15), (2011.68, 0.83, 0.15),
           (2011.67, -0.79, 0.15)]
d0851_1 = [(2010.35, 1.20, 0.5), (2010.44, -0.09, 0.6), (2010.62, 1.41, 1.6), (2010.79, -1.03, 0.6),
           (2011.05, 0.43, 0.5), (2011.09, -0.85, 0.5), (2011.21, 0.47, 0.5), (2011.34, 0.85, 0.5),
           (2011.38, -0.09, 0.6), (2011.39, 0.34, 0.5), (2011.40, 0.43, 0.5), (2011.57, -0.51, 0.6),
           (2011.68, 0.47, 0.5), (2011.73, 0.77, 0.5), (2011.76, -0.09, 0.5), (2011.87, -0.30, 0.4),
           (2011.96, -0.09, 0.4), (2012.07, -0.09, 0.4), (2012.12, 1.41, 0.5), (2012.14, 0.98, 0.5),
           (2012.12, -0.51, 0.5), (2012.19, -0.94, 0.4), (2012.24, -0.51, 0.5), (2012.35, 0.98, 0.5),
           (2012.36, 0.77, 0.5), (2012.40, -0.51, 0.5), (2012.45, 0.13, 0.5), (2012.49, 1.20, 1.0),
           (2012.70, 0.85, 0.5), (2012.90, 0.34, 0.5), (2012.95, -0.85, 0.5), (2013.08, 0.13, 0.4),
           (2013.10, 0.04, 0.4), (2013.17, -0.94, 0.4), (2013.21, -0.43, 0.4), (2013.29, -0.94, 0.5),
           (2013.43, -0.17, 0.5), (2013.45, -2.22, 0.8), (2013.48, -0.38, 0.5), (2013.61, -0.30, 0.6),
           (2013.64, -1.03, 1.4), (2013.91, -0.85, 0.5), (2013.92, -0.09, 0.5), (2013.94, -0.85, 0.5),
           (2014.02, -0.51, 0.5), (2014.33, -1.24, 0.5), (2014.36, 0.77, 0.5), (2014.45, 0.47, 0.5),
           (2014.45, -1.15, 0.5), (2014.51, -1.37, 0.5), (2014.57, -0.85, 0.5)]
q0851_1 = [(2011.74, 1.92, 0.5), (2012.83, -1.71, 0.4), (2013.04, -2.86, 0.4)]
t0851_1 = [(2012.99, -2.52, 0.2), (2014.50, -2.65, 0.2)]

d0836_3 = [(2008.31, -0.59, 0.2), (2008.35, 0.21, 0.2), (2008.42, 0.47, 0.2), (2008.77, 0.30, 0.2),
           (2009.01, 0.58, 0.2), (2009.15, 0.06, 0.2), (2009.83, -0.09, 0.2), (2010.35, 0.25, 0.2),
           (2010.58, 0.21, 0.2), (2010.79, 0.09, 0.2), (2011.04, 0.18, 0.2), (2011.06, 0.30, 0.2),
           (2011.10, -0.24, 0.2), (2011.35, -0.24, 0.2), (2011.40, 0.43, 0.2), (2011.46, 0.00, 0.2),
           (2011.47, -0.30, 0.2), (2011.51, 0.62, 0.2), (2011.57, -0.41, 0.2), (2011.61, 0.73, 0.2),
           (2011.69, 0.06, 0.2), (2011.75, -0.34, 0.2), (2011.78, 0.18, 0.2), (2011.79, -0.37, 0.2),
           (2011.87, 0.18, 0.2), (2011.89, 0.40, 0.2), (2011.96, -0.12, 0.2), (2012.03, -0.19, 0.2),
           (2012.08, 0.21, 0.2), (2012.14, 0.25, 0.2), (2012.17, 0.18, 0.2), (2012.21, 0.06, 0.2),
           (2012.22, 0.40, 0.2), (2012.28, 0.62, 0.2), (2012.34, 0.03, 0.2), (2012.37, 0.00, 0.2),
           (2012.45, -0.19, 0.2), (2012.45, -0.64, 0.2), (2012.49, 0.25, 0.2), (2012.53, 0.44, 0.2),
           (2012.56, -0.64, 0.2), (2012.62, 0.47, 0.2), (2012.70, 0.33, 0.2), (2012.71, -0.09, 0.2),
           (2012.72, 0.55, 0.2), (2012.78, 0.15, 0.2), (2012.84, 0.18, 0.2), (2012.91, -0.19, 0.2),
           (2012.95, -0.24, 0.2), (2013.01, -0.34, 0.2), (2013.02, 0.73, 0.2), (2013.04, 0.21, 0.2),
           (2013.09, -0.19, 0.2), (2013.17, 0.15, 0.2), (2013.30, 0.80, 0.2), (2013.48, 0.84, 0.2),
           (2013.56, 0.03, 0.2), (2013.60, 0.10, 0.2), (2013.63, 0.03, 0.2), (2013.66, -0.01, 0.2),
           (2013.69, 0.03, 0.2), (2013.95, 0.25, 0.2), (2014.02, 0.65, 0.2), (2014.06, -0.09, 0.2),
           (2014.17, 0.40, 0.2), (2014.21, -0.59, 0.2), (2014.34, 0.36, 0.2), (2014.37, -0.24, 0.2),
           (2014.38, -0.30, 0.2), (2014.46, -0.71, 0.2), (2014.52, 0.00, 0.2), (2014.58, 0.58, 0.2),
           (2014.61, 0.15, 0.2), (2014.63, -0.19, 0.2)]
q0836_3 = [(2007.37, 0.80, 0.15), (2007.61, 1.10, 0.15), (2007.78, -0.71, 0.15), (2008.47, 0.80, 0.15),
           (2008.90, 0.80, 0.15), (2010.44, 0.87, 0.15), (2012.65, -1.04, 0.15), (2013.61, 1.02, 0.2),
           (2013.91, 0.77, 0.15)]
t0836_3 = [(2008.62, 1.61, 0.1), (2008.70, 1.78, 0.1), (2013.22, 1.48, 0.1), (2013.93, 1.39, 0.25)]
d0836_1 = [(2010.34, 0.71, 0.6), (2010.44, 1.46, 1.4), (2011.04, 0.97, 1.3), (2011.06, -1.95, 1.1),
           (2011.09, -0.42, 0.8), (2011.46, 3.73, 1.7), (2011.48, -2.63, 1.7), (2011.52, -1.33, 1.0),
           (2011.57, 1.69, 1.8), (2011.69, 1.75, 1.0), (2011.70, 4.61, 1.8), (2011.75, -2.27, 1.2),
           (2011.77, 1.14, 1.2), (2011.88, 0.39, 0.8), (2011.96, 0.78, 0.8), (2012.03, 0.23, 1.0),
           (2012.09, 0.32, 0.8), (2012.13, -0.75, 1.2), (2012.15, -0.03, 1.0), (2012.24, 0.39, 0.8),
           (2012.28, 5.26, 2.2), (2012.37, -0.10, 1.0), (2012.53, -0.52, 0.8), (2012.70, 1.92, 1.1),
           (2012.83, -1.62, 0.9), (2012.95, -0.42, 2.0), (2013.00, -2.27, 1.5), (2013.04, -1.56, 1.7),
           (2013.09, -1.33, 1.4), (2013.10, 0.39, 1.0), (2013.17, -1.95, 1.6), (2013.21, -2.14, 2.3),
           (2013.48, -1.79, 1.6), (2013.55, -0.32, 1.0), (2013.95, -1.17, 1.2), (2014.06, 0.06, 1.0),
           (2014.18, 2.34, 1.2), (2014.37, 0.78, 2.4), (2014.52, -2.27, 2.2)]
q0836_1 = [(2014.34, -7.24, 2.2)]

names = ['1328{+}307', '1308{+}326', '1253{-}055', '1226{+}023', '1222{+}216', '1219{+}285',
         '1156{+}295', '1127{-}145', '1101{+}384', '1055{+}018', '0954{+}658', '0851{+}202',
         '0836{+}710']
left_dots = [d1328_3, d1308_3, d1253_3, d1226_3, d1222_3, d1219_3, d1156_3,
             d1127_3, d1101_3, d1055_3, d0954_3, d0851_3, d0836_3]
left_sq = [q1328_3, q1308_3, q1253_3, q1226_3, q1222_3, q1219_3, q1156_3,
           q1127_3, q1101_3, q1055_3, q0954_3, q0851_3, q0836_3]
left_tri = [[], [], [], [], [], [], [], t1127_3, [], t1055_3, [], [], t0836_3]
right_dots = [d1328_1, d1308_1, d1253_1, d1226_1, d1222_1, d1219_1, d1156_1,
              d1127_1, d1101_1, d1055_1, d0954_1, d0851_1, d0836_1]
right_sq = [q1328_1, [], q1253_1, q1226_1, q1222_1, [], [],
            [], q1101_1, q1055_1, q0954_1, q0851_1, q0836_1]
right_tri = [[], [], [], [], [], [], [], [], [], [], [], t0851_1, []]


def draw(ax, pts, **kw):
    if len(pts) == 0:
        return
    a = np.array(pts)
    ax.vlines(a[:, 0], a[:, 1] - a[:, 2], a[:, 1] + a[:, 2], color='0.3', lw=1.0,
              zorder=2, clip_on=False)
    ax.plot(a[:, 0], a[:, 1], ls='none', zorder=3, clip_on=False, **kw)


def label_fmt(v, pos):
    return r'$%d$' % int(round(v))


W, H = 1380, 1874
fig = plt.figure(figsize=(W / 100, H / 100), dpi=100)
x0, xm, x1 = 135.1 / W, 813.3 / W, 1226.5 / W
ytop, ybot = 1 - 49.3 / H, 1 - 1787.3 / H
rh = (ytop - ybot) / 13

star = dict(marker=(6, 2, 0), ms=7, mec='k', mew=1.0, color='k')
sq = dict(marker='s', ms=7.5, color='#0000ff', mec='#0000ff', mew=0)
tri = dict(marker='^', ms=7.5, color='#ff0000', mec='#ff0000', mew=0)

for i in range(13):
    y = ytop - (i + 1) * rh
    axl = fig.add_axes([x0, y, xm - x0, rh])
    axr = fig.add_axes([xm, y, x1 - xm, rh])

    for ax in (axl, axr):
        ax.axhline(0, color='k', lw=1.0, ls=(0, (1, 3)), zorder=1)
        for s in ax.spines.values():
            s.set_linewidth(1.2)
        ax.xaxis.set_major_locator(MultipleLocator(2))
        ax.xaxis.set_minor_locator(MultipleLocator(0.5))
        ax.tick_params(which='both', direction='in', top=False, bottom=True,
                       left=True, right=True, width=1.0, labelsize=23, pad=15)
        ax.tick_params(which='major', length=14)
        ax.tick_params(which='minor', length=7)
        ax.xaxis.set_major_formatter(FuncFormatter(label_fmt))
        ax.yaxis.set_major_formatter(FuncFormatter(label_fmt))
        if i < 12:
            ax.tick_params(labelbottom=False)

    axl.set_xlim(2006.5, 2015.0)
    axl.set_ylim(-3, 3)
    axl.yaxis.set_major_locator(MultipleLocator(2))
    axl.yaxis.set_minor_locator(MultipleLocator(0.5))
    axl.tick_params(which='minor', right=False)

    axr.set_xlim(2009.7, 2015.0)
    axr.set_ylim(-6.5, 6.5)
    axr.yaxis.set_major_locator(MultipleLocator(5))
    axr.yaxis.set_minor_locator(MultipleLocator(1))
    axr.tick_params(which='minor', left=False)
    axr.tick_params(labelleft=False, labelright=True)

    draw(axl, left_dots[i], **star)
    draw(axl, left_sq[i], **sq)
    draw(axl, left_tri[i], **tri)
    draw(axr, right_dots[i], **star)
    draw(axr, right_sq[i], **sq)
    draw(axr, right_tri[i], **tri)

    nm = r'$\mathrm{' + names[i] + '}$'
    axl.text(29 / (813.3 - 135.1), 1 - 20 / (rh * H), nm, transform=axl.transAxes,
             ha='left', va='center', fontsize=21)
    axr.text(1 - 27 / (1226.5 - 813.3), 1 - 20 / (rh * H), nm, transform=axr.transAxes,
             ha='right', va='center', fontsize=21)

# column titles and axis labels
fig.text(474 / W, 1 - 19 / H, r'$\mathrm{3mm}$', ha='center', va='center', fontsize=26)
fig.text(1020 / W, 1 - 19 / H, r'$\mathrm{1.3mm}$', ha='center', va='center', fontsize=26)
fig.text(474 / W, 1 - 1856 / H, r'$\mathrm{year}$', ha='center', va='center', fontsize=26)
fig.text(1020 / W, 1 - 1856 / H, r'$\mathrm{year}$', ha='center', va='center', fontsize=26)
for xc in (33 / W, 1328 / W):
    fig.text(xc, 1 - 874 / H, r'$\mathrm{m_C}$', ha='center', va='center', fontsize=24)
    fig.text(xc, 1 - 919 / H, r'$[\%]$', ha='center', va='center', fontsize=24)

# journal footer at the bottom-left edge
r = fig.canvas.get_renderer()
xpos = 13 / W
ybase = 1 - 1868 / H
for txt, kw in [('MNRAS ', {}), ('000', {'weight': 'bold'}), (', ', {}),
                ('1\u201316', {'color': '#1a1aff'}), (' (2017)', {})]:
    t = fig.text(xpos, ybase, txt, ha='left', va='baseline', fontsize=16,
                 family='Liberation Serif', color=kw.get('color', '#333333'),
                 weight=kw.get('weight', 'normal'))
    xpos += t.get_window_extent(r).width / W

fig.savefig('out.png', dpi=100)
